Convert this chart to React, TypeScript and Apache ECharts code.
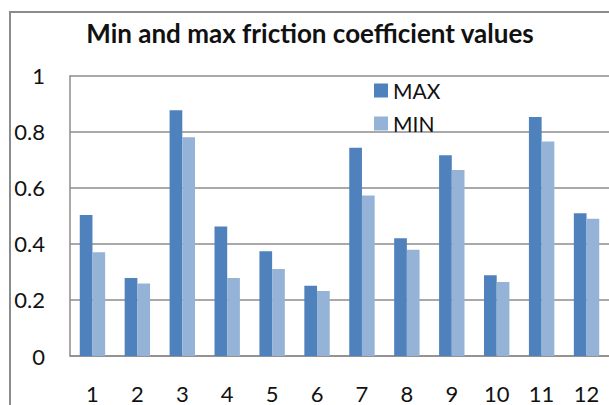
import React, { useEffect, useRef } from "react";
import * as echarts from "echarts";

const categories = ["1", "2", "3", "4", "5", "6", "7", "8", "9", "10", "11", "12"];
const maxValues = [0.503, 0.278, 0.877, 0.462, 0.374, 0.251, 0.743, 0.42, 0.716, 0.288, 0.853, 0.509];
const minValues = [0.37, 0.259, 0.78, 0.278, 0.31, 0.232, 0.573, 0.379, 0.664, 0.264, 0.765, 0.49];
const seriesNames = ["MAX", "MIN"];
const titleText = "Min and max friction coefficient values";

const FONT = "Lato, 'Noto Sans', sans-serif";

export default function App() {
  const ref = useRef<HTMLDivElement>(null);
  useEffect(() => {
    if (!ref.current) return;
    const chart = echarts.init(ref.current, null, { renderer: "svg" });
    chart.setOption({
      animation: false,
      backgroundColor: "#ffffff",
      title: {
        text: titleText,
        left: 310,
        textAlign: "center",
        top: 20,
        padding: 0,
        textStyle: { fontFamily: FONT, fontWeight: "bold", fontSize: 26, color: "#111" },
      },
      graphic: [
        {
          type: "rect",
          shape: { x: 10, y: 12, width: 640, height: 440 },
          style: { fill: "none", stroke: "#8c8c8c", lineWidth: 2 },
          silent: true,
        },
      ],
      legend: {
        orient: "vertical",
        left: 369,
        top: 75,
        itemWidth: 14,
        itemHeight: 14,
        itemGap: 12,
        icon: "rect",
        data: seriesNames,
        textStyle: { fontFamily: FONT, fontSize: 21, color: "#111" },
      },
      grid: { left: 70, top: 75.7, width: 541, height: 280.3, containLabel: false },
      xAxis: {
        type: "category",
        data: categories,
        axisTick: { show: false },
        axisLine: { show: true, lineStyle: { color: "#8c8c8c", width: 1.5 } },
        axisLabel: { fontFamily: FONT, fontSize: 22, color: "#111", margin: 26 },
      },
      yAxis: {
        type: "value",
        min: 0,
        max: 1,
        interval: 0.2,
        axisLine: { show: true, lineStyle: { color: "#8c8c8c", width: 1.5 } },
        axisTick: { show: false },
        splitLine: { show: true, lineStyle: { color: "#8c8c8c", width: 1.5 } },
        axisLabel: { fontFamily: FONT, fontSize: 22, color: "#111", margin: 25 },
      },
      series: [
        {
          name: seriesNames[0],
          type: "bar",
          data: maxValues,
          barWidth: 12.7,
          barGap: "0%",
          itemStyle: { color: "#4f81bd" },
        },
        {
          name: seriesNames[1],
          type: "bar",
          data: minValues,
          barWidth: 12.7,
          barGap: "0%",
          itemStyle: { color: "#95b3d7" },
        },
      ],
    });
    return () => chart.dispose();
  }, []);
  return (
    <div
      ref={ref}
      style={{ position: "absolute", left: 0, top: 0, width: 609, height: 405, overflow: "hidden" }}
    />
  );
}
